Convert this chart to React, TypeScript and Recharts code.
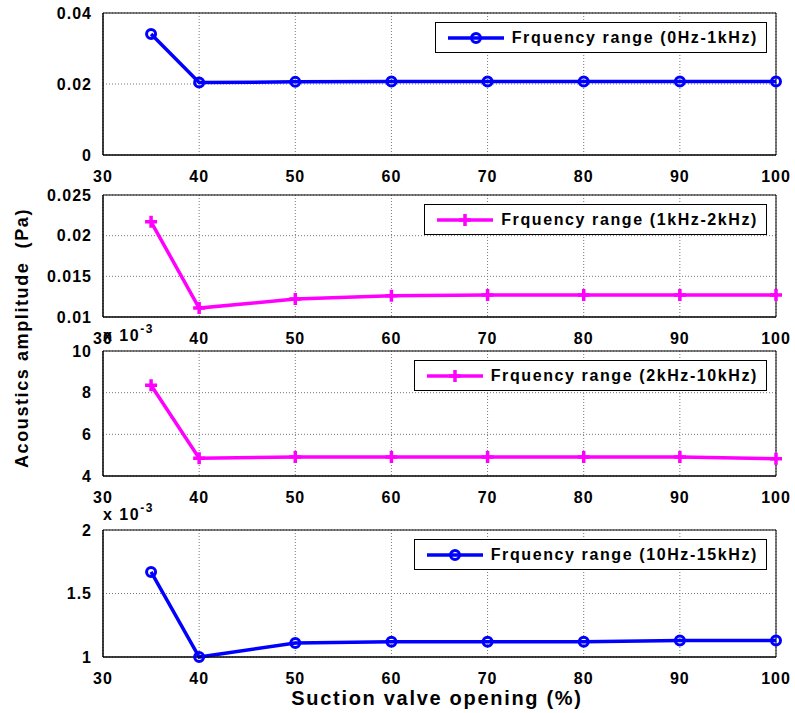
import React from "react";
import { LineChart, Line, XAxis, YAxis, CartesianGrid, Legend, ReferenceArea } from "recharts";

// suction valve opening (%)
const openings = [35, 40, 50, 60, 70, 80, 90, 100];
const xTicks = [30, 40, 50, 60, 70, 80, 90, 100];

// acoustics amplitude (Pa) per frequency band
const band0to1k = [0.0341, 0.0204, 0.0206, 0.0207, 0.0207, 0.0207, 0.0207, 0.0207];
const band1to2k = [0.0217, 0.0111, 0.0122, 0.0126, 0.0127, 0.0127, 0.0127, 0.0127];
const band2to10k = [0.00836, 0.00485, 0.00491, 0.00491, 0.00491, 0.00491, 0.00491, 0.00483];
const band10to15k = [0.00167, 0.001, 0.00111, 0.00112, 0.00112, 0.00112, 0.00113, 0.00113];

const bandNames = [
  "Frquency range (0Hz-1kHz)",
  "Frquency range (1kHz-2kHz)",
  "Frquency range (2kHz-10kHz)",
  "Frquency range (10Hz-15kHz)",
];

const yTicks1 = [0, 0.02, 0.04];
const yTicks2 = [0.01, 0.015, 0.02, 0.025];
const yTicks3 = [0.004, 0.006, 0.008, 0.01];
const yTicks4 = [0.001, 0.0015, 0.002];

const FONT = '"Liberation Sans", Arial, sans-serif';
const BLUE = "#0000ff";
const MAGENTA = "#ff00ff";

const plain = (v: number) => String(v);
const milli = (v: number) => String(+(v * 1000).toFixed(1));

const tickStyle = { fill: "#000", fontSize: 16, fontWeight: "bold", fontFamily: FONT, letterSpacing: 1 };

function CircleDot(props: any) {
  const { cx, cy, stroke } = props;
  if (cx == null || cy == null) return null;
  return <circle cx={cx} cy={cy} r={4.5} fill="none" stroke={stroke} strokeWidth={3} />;
}

function PlusDot(props: any) {
  const { cx, cy, stroke } = props;
  if (cx == null || cy == null) return null;
  const s = 6;
  return (
    <path d={`M${cx - s},${cy}H${cx + s}M${cx},${cy - s}V${cy + s}`} stroke={stroke} strokeWidth={3.5} fill="none" />
  );
}

function LegendBox({ name, color, marker }: { name: string; color: string; marker: string }) {
  return (
    <div
      style={{
        border: "1px solid #000",
        background: "#fff",
        height: 31,
        boxSizing: "border-box",
        display: "flex",
        alignItems: "center",
        padding: "0 8px 0 11px",
        fontFamily: FONT,
        fontWeight: "bold",
        fontSize: 16,
        letterSpacing: 1.6,
        color: "#000",
        whiteSpace: "nowrap",
      }}
    >
      <svg width={58} height={16} style={{ marginRight: 7 }}>
        <line x1={1} y1={8} x2={57} y2={8} stroke={color} strokeWidth={3.5} />
        {marker === "o" ? (
          <circle cx={29} cy={8} r={4.5} fill="none" stroke={color} strokeWidth={3} />
        ) : (
          <path d="M23,8H35M29,2V14" stroke={color} strokeWidth={3.5} />
        )}
      </svg>
      <span>{name}</span>
    </div>
  );
}

type PanelProps = {
  plotTop: number;
  plotHeight: number;
  values: number[];
  yTicks: number[];
  fmt: (v: number) => string;
  color: string;
  marker: string;
  name: string;
};

function Panel({ plotTop, plotHeight, values, yTicks, fmt, color, marker, name }: PanelProps) {
  const data = openings.map((x, i) => ({ x, y: values[i] }));
  const top = plotTop - 10;
  const yMin = yTicks[0];
  const yMax = yTicks[yTicks.length - 1];
  return (
    <div style={{ position: "absolute", left: 0, top }}>
      <LineChart width={795} height={plotHeight + 40} data={data} margin={{ top: 10, right: 19, left: 0, bottom: 0 }}>
        <CartesianGrid stroke="#777" strokeDasharray="1 2" />
        <XAxis
          dataKey="x"
          type="number"
          domain={[30, 100]}
          ticks={xTicks}
          interval={0}
          height={30}
          tickLine={false}
          tickMargin={10}
          axisLine={{ stroke: "#000" }}
          tick={tickStyle}
        />
        <YAxis
          type="number"
          domain={[yMin, yMax]}
          ticks={yTicks}
          interval={0}
          width={103}
          tickLine={false}
          tickMargin={5}
          tickFormatter={fmt}
          axisLine={{ stroke: "#000" }}
          tick={tickStyle}
        />
        <ReferenceArea x1={30} x2={100} y1={yMin} y2={yMax} fill="none" stroke="#000" strokeWidth={1} />
        <Legend
          layout="vertical"
          align="center"
          verticalAlign="middle"
          wrapperStyle={{ top: 19, right: 28, left: "auto", width: "auto", height: "auto" }}
          content={() => <LegendBox name={name} color={color} marker={marker} />}
        />
        <Line
          dataKey="y"
          name={name}
          stroke={color}
          strokeWidth={3.5}
          dot={marker === "o" ? <CircleDot /> : <PlusDot />}
          activeDot={false}
          isAnimationActive={false}
        />
      </LineChart>
    </div>
  );
}

function Exponent({ top }: { top: number }) {
  return (
    <div
      style={{
        position: "absolute",
        left: 103,
        top,
        fontFamily: FONT,
        fontWeight: "bold",
        fontSize: 16,
        letterSpacing: 1.5,
        lineHeight: "16px",
        color: "#000",
        whiteSpace: "nowrap",
      }}
    >
      x 10<span style={{ fontSize: 12, position: "relative", top: -8 }}>-3</span>
    </div>
  );
}

export default function App() {
  return (
    <div style={{ position: "absolute", left: 0, top: 0, width: 795, height: 713, background: "#fff", overflow: "hidden" }}>
      <Panel plotTop={13} plotHeight={142} values={band0to1k} yTicks={yTicks1} fmt={plain} color={BLUE} marker="o" name={bandNames[0]} />
      <Panel plotTop={195} plotHeight={122} values={band1to2k} yTicks={yTicks2} fmt={plain} color={MAGENTA} marker="+" name={bandNames[1]} />
      <Panel plotTop={351} plotHeight={125} values={band2to10k} yTicks={yTicks3} fmt={milli} color={MAGENTA} marker="+" name={bandNames[2]} />
      <Panel plotTop={530} plotHeight={127} values={band10to15k} yTicks={yTicks4} fmt={milli} color={BLUE} marker="o" name={bandNames[3]} />
      <Exponent top={328} />
      <Exponent top={507} />
      <div
        style={{
          position: "absolute",
          left: 22,
          top: 338,
          transform: "translate(-50%, -50%) rotate(-90deg)",
          fontFamily: FONT,
          fontWeight: "bold",
          fontSize: 18,
          lineHeight: "18px",
          letterSpacing: 1.6,
          whiteSpace: "nowrap",
          color: "#000",
        }}
      >
        Acoustics amplitude&nbsp; (Pa)
      </div>
      <div
        style={{
          position: "absolute",
          left: 437,
          top: 698,
          transform: "translate(-50%, -50%)",
          fontFamily: FONT,
          fontWeight: "bold",
          fontSize: 20,
          lineHeight: "20px",
          letterSpacing: 1.7,
          whiteSpace: "nowrap",
          color: "#000",
        }}
      >
        Suction valve opening (%)
      </div>
    </div>
  );
}
